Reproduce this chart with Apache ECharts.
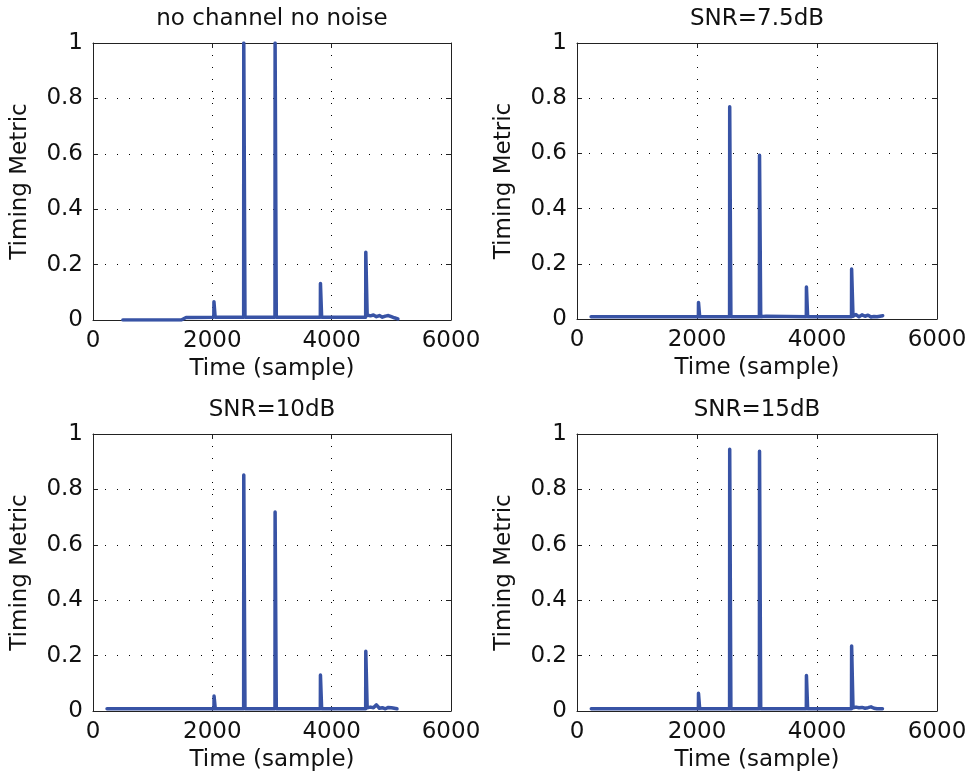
<!DOCTYPE html>
<html>
<head>
<meta charset="utf-8">
<script src="https://cdn.jsdelivr.net/npm/echarts@6/dist/echarts.min.js"></script>
<style>
html,body{margin:0;padding:0;background:#fff;}
#c{width:971px;height:781px;}
</style>
</head>
<body>
<div id="c"></div>
<script>
// ---- data ----
var titles = ['no channel no noise', 'SNR=7.5dB', 'SNR=10dB', 'SNR=15dB'];
var xTicks = [0, 2000, 4000, 6000];
var yTicks = [0, 0.2, 0.4, 0.6, 0.8, 1];

var tlX = [500, 1480, 1560, 2025, 2027, 2045, 2047, 2525, 2527, 2545, 2547, 3050, 3052, 3070, 3072, 3810, 3812, 3830, 3832, 4570, 4572, 4590, 4595, 4650, 4700, 4750, 4800, 4850, 4900, 4950, 5000, 5050, 5110];
var tlY = [0, 0, 0.009, 0.01, 0.066, 0.066, 0.01, 0.01, 1, 1, 0.01, 0.01, 1, 1, 0.01, 0.01, 0.132, 0.132, 0.01, 0.01, 0.245, 0.245, 0.018, 0.015, 0.018, 0.012, 0.016, 0.01, 0.014, 0.016, 0.012, 0.008, 0.004];

var trX = [235, 2023, 2025, 2043, 2045, 2543, 2545, 2563, 2565, 3040, 3042, 3060, 3062, 3150, 3822, 3824, 3842, 3844, 4575, 4577, 4595, 4600, 4650, 4700, 4750, 4800, 4850, 4900, 4950, 5000, 5050, 5095];
var trY = [0.008, 0.008, 0.06, 0.06, 0.008, 0.008, 0.769, 0.769, 0.008, 0.008, 0.593, 0.593, 0.008, 0.01, 0.008, 0.116, 0.116, 0.008, 0.008, 0.181, 0.181, 0.01, 0.016, 0.008, 0.015, 0.01, 0.014, 0.007, 0.009, 0.008, 0.01, 0.012];

var blX = [235, 2027, 2029, 2047, 2049, 2525, 2527, 2545, 2547, 3050, 3052, 3070, 3072, 3810, 3812, 3830, 3832, 4570, 4572, 4590, 4595, 4650, 4700, 4750, 4800, 4850, 4900, 4950, 5000, 5050, 5095];
var blY = [0.008, 0.008, 0.054, 0.054, 0.008, 0.008, 0.852, 0.852, 0.008, 0.008, 0.718, 0.718, 0.008, 0.008, 0.13, 0.13, 0.008, 0.008, 0.216, 0.216, 0.012, 0.014, 0.012, 0.022, 0.01, 0.012, 0.008, 0.013, 0.012, 0.01, 0.008];

var brX = [238, 2023, 2025, 2043, 2045, 2543, 2545, 2563, 2565, 3040, 3042, 3060, 3062, 3822, 3824, 3842, 3844, 4575, 4577, 4595, 4600, 4650, 4700, 4750, 4800, 4850, 4900, 4950, 5000, 5050, 5091];
var brY = [0.008, 0.008, 0.064, 0.064, 0.008, 0.008, 0.945, 0.945, 0.008, 0.008, 0.938, 0.938, 0.008, 0.008, 0.128, 0.128, 0.008, 0.008, 0.235, 0.235, 0.012, 0.014, 0.012, 0.013, 0.01, 0.012, 0.015, 0.01, 0.008, 0.008, 0.008];

var seriesX = [tlX, trX, blX, brX];
var seriesY = [tlY, trY, blY, brY];

// ---- layout ----
var FONT = 'DejaVu Sans';
var FS = 23;
var grids = [
  {left: 93, top: 43, width: 358, height: 277},
  {left: 577, top: 43, width: 360, height: 276},
  {left: 93, top: 434, width: 358, height: 277},
  {left: 577, top: 434, width: 360, height: 277}
];
var lineColor = '#3853a5';
var axisColor = '#222';

function zip(xs, ys) {
  var out = [];
  for (var i = 0; i < xs.length; i++) out.push([xs[i], ys[i]]);
  return out;
}

var option = {
  backgroundColor: '#fff',
  animation: false,
  textStyle: {fontFamily: FONT},
  title: [],
  grid: [],
  xAxis: [],
  yAxis: [],
  series: []
};

var dotted = {color: '#000', width: 1, type: [1, 11]};
var xMin = xTicks[0], xMax = xTicks[xTicks.length - 1];
var yMin = yTicks[0], yMax = yTicks[yTicks.length - 1];

grids.forEach(function (g, i) {
  option.grid.push({left: g.left, top: g.top, width: g.width, height: g.height, containLabel: false});
  option.title.push({
    text: titles[i],
    left: g.left + g.width / 2,
    top: g.top - 35,
    textAlign: 'center',
    padding: 0,
    textStyle: {fontFamily: FONT, fontSize: FS, fontWeight: 'normal', color: '#111'}
  });
  option.xAxis.push({
    type: 'value', gridIndex: i, position: 'bottom',
    min: xMin, max: xMax, interval: xTicks[1] - xTicks[0],
    name: 'Time (sample)', nameLocation: 'middle', nameGap: 38,
    nameTextStyle: {fontFamily: FONT, fontSize: FS, color: '#111'},
    axisLine: {show: true, onZero: false, lineStyle: {color: axisColor, width: 1}},
    axisTick: {show: true, inside: true, length: 5, lineStyle: {color: axisColor}},
    axisLabel: {show: true, margin: 10, fontFamily: FONT, fontSize: FS, color: '#111', lineHeight: FS,
      formatter: function (v) { return String(v); }},
    splitLine: {show: true, lineStyle: dotted}
  });
  option.xAxis.push({
    type: 'value', gridIndex: i, position: 'top',
    min: xMin, max: xMax, interval: xTicks[1] - xTicks[0],
    axisLine: {show: true, onZero: false, lineStyle: {color: axisColor, width: 1}},
    axisTick: {show: true, inside: true, length: 5, lineStyle: {color: axisColor}},
    axisLabel: {show: false},
    splitLine: {show: false}
  });
  option.yAxis.push({
    type: 'value', gridIndex: i, position: 'left',
    min: yMin, max: yMax, interval: yTicks[1] - yTicks[0],
    name: 'Timing Metric', nameLocation: 'middle', nameGap: 61,
    nameTextStyle: {fontFamily: FONT, fontSize: FS, color: '#111'},
    axisLine: {show: true, onZero: false, lineStyle: {color: axisColor, width: 1}},
    axisTick: {show: true, inside: true, length: 5, lineStyle: {color: axisColor}},
    axisLabel: {show: true, margin: 10, fontFamily: FONT, fontSize: FS, color: '#111',
      formatter: function (v) { return String(v); }},
    splitLine: {show: true, lineStyle: dotted}
  });
  option.yAxis.push({
    type: 'value', gridIndex: i, position: 'right',
    min: yMin, max: yMax, interval: yTicks[1] - yTicks[0],
    axisLine: {show: true, onZero: false, lineStyle: {color: axisColor, width: 1}},
    axisTick: {show: true, inside: true, length: 5, lineStyle: {color: axisColor}},
    axisLabel: {show: false},
    splitLine: {show: false}
  });
  option.series.push({
    type: 'line',
    xAxisIndex: i * 2,
    yAxisIndex: i * 2,
    data: zip(seriesX[i], seriesY[i]),
    showSymbol: false,
    symbol: 'none',
    clip: true,
    z: 5,
    lineStyle: {color: lineColor, width: 3.5, cap: 'round', join: 'round'},
    itemStyle: {color: lineColor}
  });
});

var chart = echarts.init(document.getElementById('c'), null, {renderer: 'canvas'});
chart.setOption(option);
</script>
</body>
</html>
